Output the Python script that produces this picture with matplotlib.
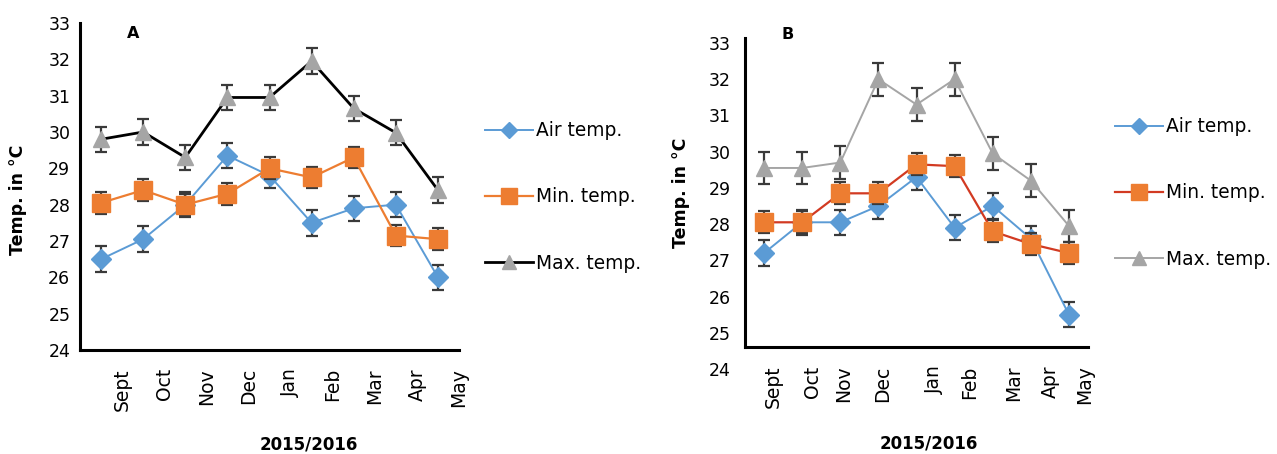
"""Monthly air / min / max temperature, two sites (panels A and B)."""

import matplotlib.pyplot as plt
import numpy as np

plt.rcParams.update({
    "font.family": "DejaVu Sans",
    "font.size": 12.5,
    "axes.linewidth": 2.2,
    "xtick.major.size": 0,
    "ytick.major.size": 0,
})

months = ["Sept", "Oct", "Nov", "Dec", "Jan", "Feb", "Mar", "Apr", "May"]
series_labels = ["Air temp.", "Min. temp.", "Max. temp."]

# Panel A
air_a = [26.5, 27.05, 28.0, 29.35, 28.8, 27.5, 27.9, 28.0, 26.0]
min_a = [28.05, 28.4, 28.0, 28.3, 29.0, 28.75, 29.3, 27.15, 27.05]
max_a = [29.8, 30.0, 29.3, 30.95, 30.95, 31.95, 30.65, 29.98, 28.4]
air_a_err = [0.35] * 9
min_a_err = [0.3] * 9
max_a_err = [0.35] * 9

# Panel B
air_b = [27.2, 28.05, 28.05, 28.5, 29.3, 27.9, 28.5, 27.6, 25.5]
min_b = [28.05, 28.05, 28.85, 28.85, 29.65, 29.6, 27.8, 27.45, 27.2]
max_b = [29.55, 29.55, 29.7, 32.0, 31.3, 32.0, 29.95, 29.2, 27.95]
air_b_err = [0.35] * 9
min_b_err = [0.3] * 9
max_b_err = [0.45] * 9

BLUE = "#5b9bd5"
ORANGE = "#ed7d31"
GRAY = "#a5a5a5"
RED = "#d23a22"
ERR = "#3a3a3a"

# month label positions (category units) - panel B labels are placed unevenly
tick_pos_a = [1, 2, 3, 4, 5, 6, 7, 8, 9]
tick_pos_b = [0.73, 1.78, 2.6, 3.6, 4.97, 5.9, 7.05, 8.02, 8.9]

W, H = 1277, 454
fig = plt.figure(figsize=(W / 100, H / 100), dpi=100)
ax_a = fig.add_axes([80 / W, 1 - 350 / H, 379 / W, 327 / H])
ax_b = fig.add_axes([745 / W, 1 - 369 / H, 343 / W, 326 / H])


def draw_series(ax, x, y, err, line_color, marker, mcolor, ms, lw, z):
    cont = ax.errorbar(x, y, yerr=err, color=line_color, lw=lw, marker=marker,
                       ms=ms, mfc=mcolor, mec=mcolor, ecolor=ERR,
                       elinewidth=1.6, capsize=4.3, capthick=1.6, zorder=z)
    return cont[0]


def panel(ax, air, air_err, mn, mn_err, mx, mx_err, min_line, max_line,
          max_lw, ticks, letter, letter_xy):
    x = np.arange(len(months)) + 0.5
    handles = [
        draw_series(ax, x, air, air_err, BLUE, "D", BLUE, 10, 1.4, 3),
        draw_series(ax, x, mn, mn_err, min_line, "s", ORANGE, 13, 1.6, 4),
        draw_series(ax, x, mx, mx_err, max_line, "^", GRAY, 11.5, max_lw, 5),
    ]

    ax.set_xlim(0, 9)
    ax.set_ylim(24, 33)
    ax.set_yticks(range(24, 34))
    ax.set_xticks(ticks)
    ax.set_xticklabels(months)
    ax.tick_params(axis="x", pad=13, labelrotation=90, labelsize=13.5)
    ax.tick_params(axis="y", pad=7)
    for s in ("top", "right"):
        ax.spines[s].set_visible(False)

    ax.set_ylabel("Temp. in °C", fontweight="bold", fontsize=12.5)
    ax.set_xlabel("2015/2016", fontweight="bold", fontsize=12)
    ax.text(*letter_xy, letter, transform=ax.transAxes, fontweight="bold",
            fontsize=11.5, ha="center", va="center")

    leg = ax.legend(handles, series_labels, frameon=False, handlelength=2.6,
                    handletextpad=0.15, labelspacing=2.55, markerscale=0.85,
                    borderpad=0, borderaxespad=0, loc="center left",
                    fontsize=13.4)
    return leg


leg_a = panel(ax_a, air_a, air_a_err, min_a, min_a_err, max_a, max_a_err,
              ORANGE, "black", 2.0, tick_pos_a, "A", (0.14, 0.969))
leg_a.set_bbox_to_anchor((485 / W, 1 - 197 / H), transform=fig.transFigure)
ax_a.xaxis.set_label_coords(0.604, -0.26)
ax_a.yaxis.set_label_coords(-0.14, 0.459)

leg_b = panel(ax_b, air_b, air_b_err, min_b, min_b_err, max_b, max_b_err,
              RED, GRAY, 1.4, tick_pos_b, "B", (0.125, 1.025))
leg_b.set_bbox_to_anchor((1115 / W, 1 - 193 / H), transform=fig.transFigure)
# x-axis line sits above the 24 gridline in panel B
ax_b.spines["bottom"].set_position(("data", 24.6))
ax_b.spines["left"].set_bounds(24.6, 33.15)
ax_b.tick_params(axis="y", pad=10)
ax_b.xaxis.set_label_coords(0.536, -0.2)
ax_b.yaxis.set_label_coords(-0.16, 0.54)

fig.savefig("out.png", dpi=100)
